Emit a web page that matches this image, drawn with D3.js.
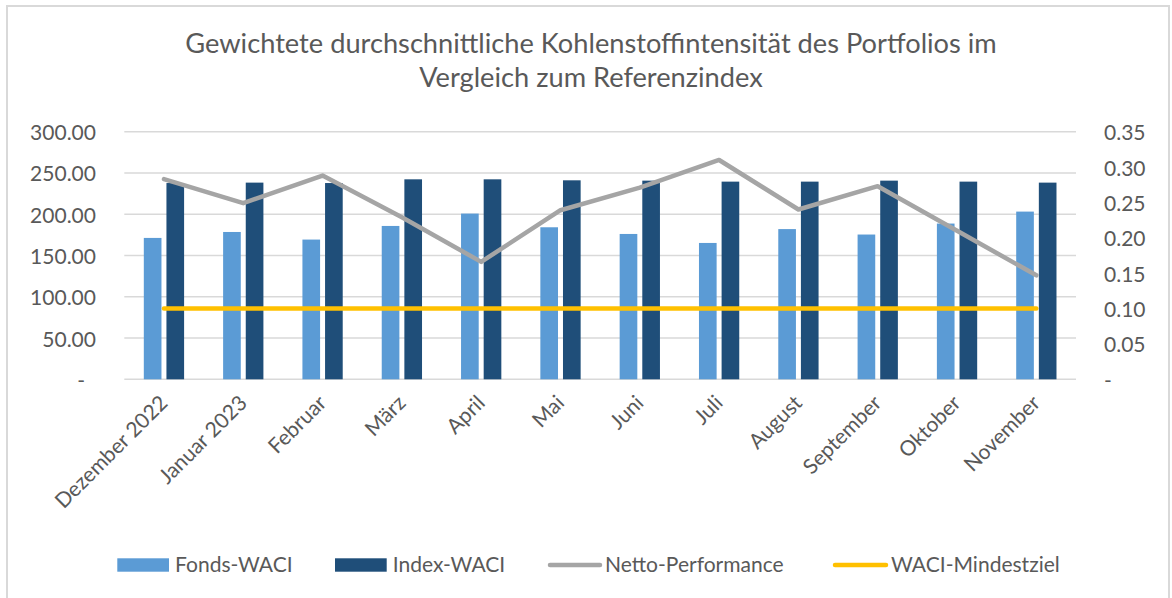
<!DOCTYPE html>
<html>
<head>
<meta charset="utf-8">
<script src="https://cdn.jsdelivr.net/npm/d3@7"></script>
<style>
  html, body { margin: 0; padding: 0; background: #ffffff; }
  svg { display: block; }
  text { font-family: Lato, "Open Sans", sans-serif; fill: #595959; }
</style>
</head>
<body>
<svg id="chart" width="1172" height="598"></svg>
<script>
const titleLines = ["Gewichtete durchschnittliche Kohlenstoffintensität des Portfolios im", "Vergleich zum Referenzindex"];
const categories = ["Dezember 2022", "Januar 2023", "Februar", "März", "April", "Mai", "Juni", "Juli", "August", "September", "Oktober", "November"];
const fondsWACI = [171.3, 178.5, 169.3, 185.8, 200.8, 184.2, 176.1, 165.2, 182.0, 175.4, 188.7, 203.2];
const indexWACI = [237.8, 238.3, 237.8, 242.3, 242.3, 241.1, 240.7, 239.5, 239.5, 240.7, 239.5, 238.3];
const nettoPerformance = [0.283, 0.249, 0.288, 0.229, 0.166, 0.239, 0.271, 0.310, 0.240, 0.273, 0.210, 0.147];
const waciMindestziel = [0.10, 0.10, 0.10, 0.10, 0.10, 0.10, 0.10, 0.10, 0.10, 0.10, 0.10, 0.10];
const leftTicks = [0, 50, 100, 150, 200, 250, 300];
const rightTicks = [0, 0.05, 0.10, 0.15, 0.20, 0.25, 0.30, 0.35];
const seriesNames = ["Fonds-WACI", "Index-WACI", "Netto-Performance", "WACI-Mindestziel"];
const colors = { fonds: "#5b9bd5", index: "#1f4e79", netto: "#a5a5a5", ziel: "#ffc000" };

const svg = d3.select("#chart");

// measure helper to size fonts to the reference's text widths
function measure(str, size) {
  const t = svg.append("text").attr("font-size", size).text(str);
  const w = t.node().getComputedTextLength();
  t.remove();
  return w;
}
const labelSize = 100 * 117.7 / measure("Fonds-WACI", 100);
const titleSize = 100 * 812 / measure(titleLines[0], 100);

// chart border
svg.append("rect").attr("x", 7).attr("y", 6).attr("width", 1162).attr("height", 640)
  .attr("fill", "none").attr("stroke", "#d9d9d9").attr("stroke-width", 2);

const plot = { left: 124.3, right: 1076, top: 131.7, bottom: 379.3 };

const x = d3.scaleBand().domain(categories).range([plot.left, plot.right]).paddingInner(0).paddingOuter(0);
const bw = x.bandwidth();
const x1 = d3.scaleBand().domain(["fonds", "index"]).range([bw * 0.246, bw * 0.754]).paddingInner(0.22);
const yL = d3.scaleLinear().domain([0, 300]).range([plot.bottom, plot.top]);
const yR = d3.scaleLinear().domain([0, 0.35]).range([plot.bottom, plot.top]);

// gridlines
svg.append("g").selectAll("line").data(leftTicks).join("line")
  .attr("x1", plot.left).attr("x2", plot.right)
  .attr("y1", d => yL(d)).attr("y2", d => yL(d))
  .attr("stroke", "#d9d9d9").attr("stroke-width", 1.5);

// left axis labels
const fmtL = d => d === 0 ? "-" : d3.format(".2f")(d);
svg.append("g").selectAll("text").data(leftTicks).join("text")
  .attr("x", d => d === 0 ? 85 : 96).attr("y", d => yL(d))
  .attr("text-anchor", "end").attr("dominant-baseline", "central")
  .attr("font-size", labelSize).text(fmtL);

// right axis labels
const fmtR = d => d === 0 ? "-" : d3.format(".2f")(d);
svg.append("g").selectAll("text").data(rightTicks).join("text")
  .attr("x", 1104).attr("y", d => yR(d))
  .attr("text-anchor", "start").attr("dominant-baseline", "central")
  .attr("font-size", labelSize).text(fmtR);

// bars
const barData = categories.map((c, i) => ({ c, fonds: fondsWACI[i], index: indexWACI[i] }));
const groups = svg.append("g").selectAll("g").data(barData).join("g")
  .attr("transform", d => `translate(${x(d.c)},0)`);
groups.append("rect")
  .attr("x", x1("fonds")).attr("width", x1.bandwidth())
  .attr("y", d => yL(d.fonds)).attr("height", d => yL(0) - yL(d.fonds))
  .attr("fill", colors.fonds);
groups.append("rect")
  .attr("x", x1("index")).attr("width", x1.bandwidth())
  .attr("y", d => yL(d.index)).attr("height", d => yL(0) - yL(d.index))
  .attr("fill", colors.index);

// lines
const cx = c => x(c) + bw / 2;
const lineNetto = d3.line().x((d, i) => cx(categories[i])).y(d => yR(d));
svg.append("path").datum(nettoPerformance).attr("d", lineNetto)
  .attr("fill", "none").attr("stroke", colors.netto).attr("stroke-width", 4.5)
  .attr("stroke-linejoin", "round").attr("stroke-linecap", "round");
svg.append("path").datum(waciMindestziel).attr("d", lineNetto)
  .attr("fill", "none").attr("stroke", colors.ziel).attr("stroke-width", 4.5)
  .attr("stroke-linecap", "round");

// category labels
svg.append("g").selectAll("text").data(categories).join("text")
  .attr("transform", d => `translate(${cx(d) + 5},${plot.bottom + 25}) rotate(-45)`)
  .attr("text-anchor", "end").attr("font-size", labelSize).text(d => d);

// title
svg.append("g").selectAll("text").data(titleLines).join("text")
  .attr("x", 591).attr("y", (d, i) => 53.3 + i * 34)
  .attr("text-anchor", "middle").attr("font-size", titleSize).text(d => d);

// legend
const legendItems = [
  { name: seriesNames[0], type: "rect", color: colors.fonds, x0: 117.3, x1: 169, tx: 175 },
  { name: seriesNames[1], type: "rect", color: colors.index, x0: 335, x1: 386.7, tx: 392.7 },
  { name: seriesNames[2], type: "line", color: colors.netto, x0: 550, x1: 600, tx: 605 },
  { name: seriesNames[3], type: "line", color: colors.ziel, x0: 835, x1: 886, tx: 891 }
];
const lg = svg.append("g").selectAll("g").data(legendItems).join("g");
lg.filter(d => d.type === "rect").append("rect")
  .attr("x", d => d.x0).attr("width", d => d.x1 - d.x0)
  .attr("y", 558.3).attr("height", 13.4).attr("fill", d => d.color);
lg.filter(d => d.type === "line").append("line")
  .attr("x1", d => d.x0).attr("x2", d => d.x1).attr("y1", 565).attr("y2", 565)
  .attr("stroke", d => d.color).attr("stroke-width", 4.5).attr("stroke-linecap", "round");
lg.append("text").attr("x", d => d.tx).attr("y", 571.5)
  .attr("font-size", labelSize).text(d => d.name);
</script>
</body>
</html>
